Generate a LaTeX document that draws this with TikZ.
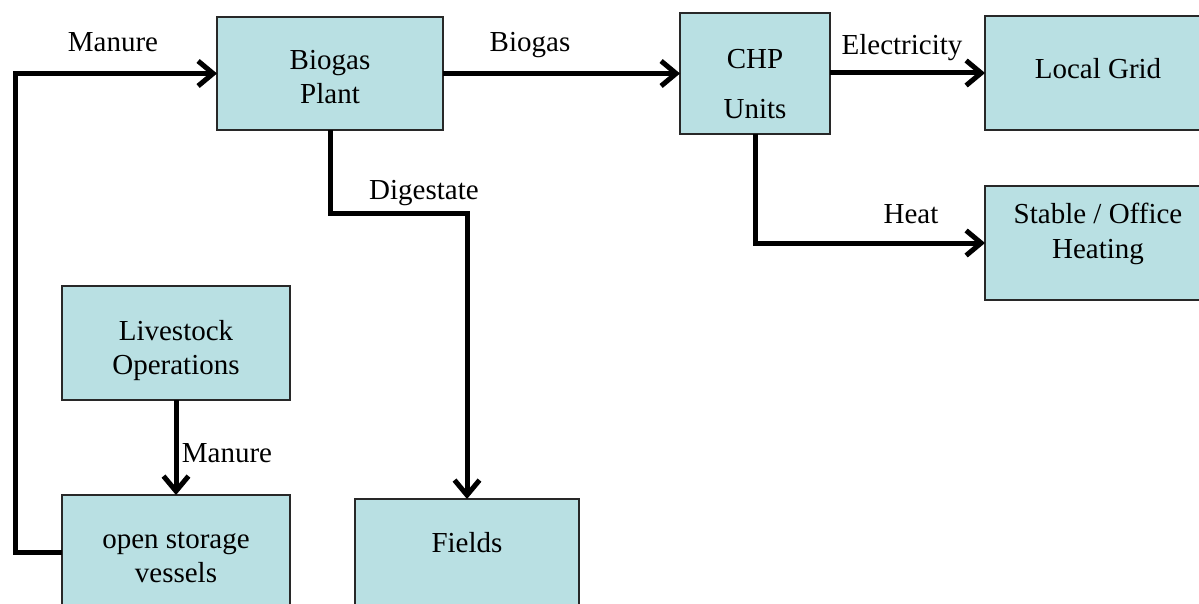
\documentclass[tikz,border=0pt]{standalone}
\usepackage{fontspec}
\setmainfont{Liberation Serif}
\usetikzlibrary{arrows.meta}
\definecolor{boxfill}{RGB}{185,224,227}
\definecolor{boxline}{RGB}{40,40,40}
\begin{document}
\begin{tikzpicture}[x=1pt,y=-1pt,
  box/.style={draw=boxline, line width=1.5pt, fill=boxfill, inner sep=0pt, outer sep=0pt},
  txt/.style={inner sep=0pt, anchor=north, align=center, font=\fontsize{29}{34}\selectfont},
  lbl/.style={inner sep=0pt, anchor=base, font=\fontsize{29}{34}\selectfont},
  flow/.style={line width=5pt, line join=miter, -{Straight Barb[length=15pt,width=25pt]}}
]
\useasboundingbox (0,0) rectangle (1199,604);
\clip (0,0) rectangle (1199,604);
% boxes
\node[box, minimum width=226pt, minimum height=113pt] (plant) at (330,73.5) {};
\node[box, minimum width=150pt, minimum height=121pt] (chp) at (755,73.5) {};
\node[box, minimum width=226pt, minimum height=114pt] (grid) at (1098,73) {};
\node[box, minimum width=226pt, minimum height=114pt] (heat) at (1098,243) {};
\node[box, minimum width=228pt, minimum height=114pt] (live) at (176,343) {};
\node[box, minimum width=228pt, minimum height=114pt] (store) at (176,552) {};
\node[box, minimum width=224pt, minimum height=114pt] (fields) at (467,556) {};
% box texts (strut height 23.8pt above first baseline)
\node[txt] (plantT) at (330,45.7) {\strut Biogas\\Plant};
\node[txt] (chpT) at (755,44.2) {\strut CHP\\[16pt]Units};
\node[txt] (gridT) at (1098,54.2) {\strut Local Grid};
\node[txt] (heatT) at (1098,199.2) {\strut Stable / Office\\[1pt]Heating};
\node[txt] (liveT) at (176,316.7) {\strut Livestock\\Operations};
\node[txt] (storeT) at (176,524.2) {\strut open storage\\vessels};
\node[txt] (fieldsT) at (467,528.2) {\strut Fields};
% connector labels
\node[lbl] (lManure) at (113,52) {Manure};
\node[lbl] (lBiogas) at (530,52) {Biogas};
\node[lbl] (lElec) at (902,55) {Electricity};
\node[lbl] (lHeat) at (911,223) {Heat};
\node[lbl] (lDig) at (424,200) {Digestate};
\node[lbl] (lManure2) at (227,462) {Manure};
% connectors
\draw[flow] (store.west) -- ++(-47,0) |- (plant.west);
\draw[flow] (plant.east) -- (chp.west);
\draw[flow] (chp.east |- grid.west) -- (grid.west);
\draw[flow] (chp.south) |- (heat.west);
\draw[flow] (plant.south) -- ++(0,84) -| (fields.north);
\draw[flow] (live.south) -- (store.north);
\end{tikzpicture}
\end{document}
